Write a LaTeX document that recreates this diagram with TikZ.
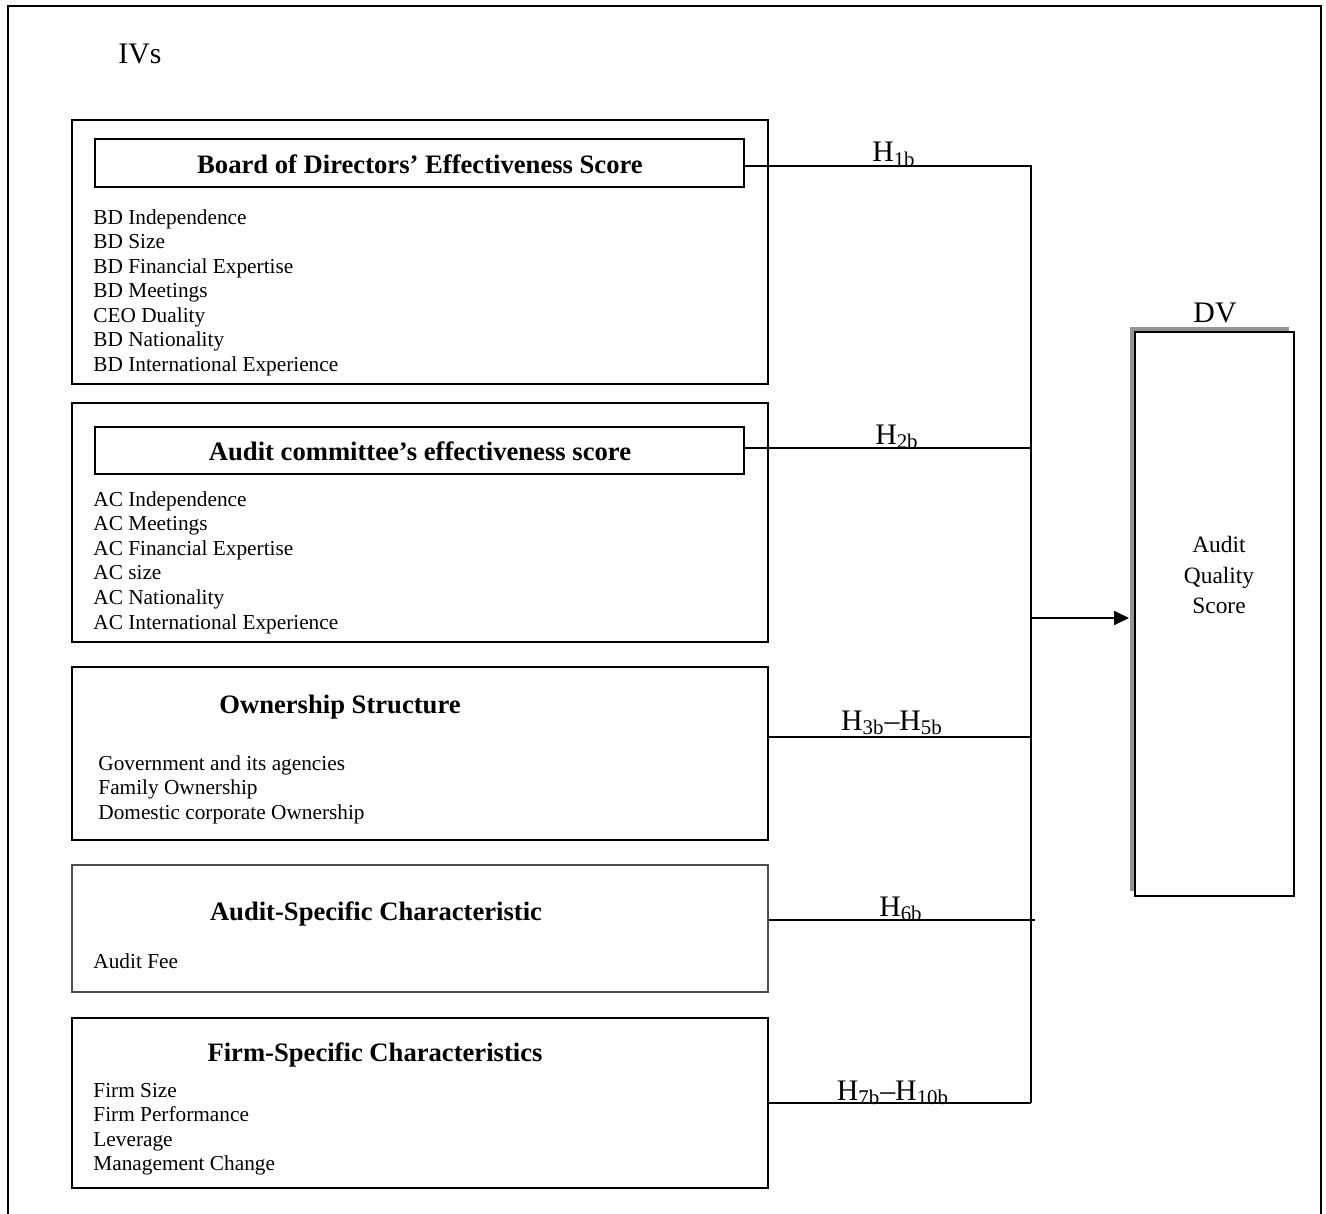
\documentclass[tikz,border=0pt]{standalone}
\usepackage{fontspec}
\setmainfont{Liberation Serif}
\usetikzlibrary{fit,shadows,arrows.meta}
\begin{document}
\begin{tikzpicture}[x=0.4695pt,y=-0.4695pt,
  frame/.style={draw, line width=0.9pt, inner sep=0pt},
  wire/.style={draw, line width=0.9pt},
  item/.style={anchor=base west, inner sep=0pt, font=\fontsize{10}{12}\selectfont},
  ttl/.style={anchor=base, inner sep=0pt, font=\fontsize{12.5}{14}\bfseries\selectfont},
  hlab/.style={anchor=base, inner sep=0pt, font=\fontsize{14}{16}\selectfont},
  big/.style={anchor=base west, inner sep=0pt, font=\fontsize{14}{16}\selectfont}]
\useasboundingbox (0,0) rectangle (1326,1214);

% outer frame, open at the bottom
\draw[line width=0.9pt] (8,1214) -- (8,6) -- (1321,6) -- (1321,1214);

\node[big] (ivs) at (118,64) {IVs};

% Board of directors
\node[frame, fit={(72,120) (768,384)}] (bd) {};
\node[frame, fit={(95,139) (744,187)}] (bdt) {};
\node[ttl] (bdtt) at (420,173) {Board of Directors’ Effectiveness Score};
\foreach [count=\i] \t in {BD Independence, BD Size, BD Financial Expertise, BD Meetings, CEO Duality, BD Nationality, BD International Experience}
  \node[item] (bd\i) at (93,{224+24.5*(\i-1)}) {\t};

% Audit committee
\node[frame, fit={(72,403) (768,642)}] (ac) {};
\node[frame, fit={(95,427) (744,474)}] (act) {};
\node[ttl] (actt) at (420,460) {Audit committee’s effectiveness score};
\foreach [count=\i] \t in {AC Independence, AC Meetings, AC Financial Expertise, AC size, AC Nationality, AC International Experience}
  \node[item] (ac\i) at (93,{506+24.6*(\i-1)}) {\t};

% Ownership structure
\node[frame, fit={(72,667) (768,840)}] (own) {};
\node[ttl] (ownt) at (340,713) {Ownership Structure};
\foreach [count=\i] \t in {Government and its agencies, Family Ownership, Domestic corporate Ownership}
  \node[item] (own\i) at (98,{770+24.5*(\i-1)}) {\t};

% Audit-specific characteristic
\node[frame, draw=black!70, fit={(72,865) (768,992)}] (aud) {};
\node[ttl] (audt) at (376,920) {Audit-Specific Characteristic};
\node[item] (aud1) at (93,968) {Audit Fee};

% Firm-specific characteristics
\node[frame, fit={(72,1018) (768,1188)}] (firm) {};
\node[ttl] (firmt) at (375,1061) {Firm-Specific Characteristics};
\foreach [count=\i] \t in {Firm Size, Firm Performance, Leverage, Management Change}
  \node[item] (firm\i) at (93,{1097+24.5*(\i-1)}) {\t};

% Dependent variable
\node[big, anchor=base] (dvl) at (1215,322) {DV};
\node[frame, fill=white, fit={(1135,332) (1294,896)},
  drop shadow={shadow xshift=-2.35pt, shadow yshift=2.35pt, fill=black!42, opacity=1}] (dv) {};
\node[align=center, inner sep=0pt, font=\fontsize{11}{14.5}\selectfont] (aqs) at (1219,575) {Audit\\Quality\\Score};

% connectors
\coordinate (j1) at (1031,166);
\coordinate (j2) at (1031,448);
\coordinate (j3) at (1031,737);
\coordinate (j4) at (1035,920);
\coordinate (j5) at (1031,1103);
\coordinate (jm) at (1031,618);
\draw[wire] (bdt.east |- j1) -- (j1) -- (j5);
\draw[wire] (act.east |- j2) -- (j2);
\draw[wire] (own.east |- j3) -- (j3);
\draw[wire] (aud.east |- j4) -- (j4);
\draw[wire] (firm.east |- j5) -- (j5);
\draw[wire, -{Triangle[length=7pt,width=6.5pt]}, shorten >=2.35pt] (jm) -- (dv.west |- jm);

% hypothesis labels
\node[hlab] (h1) at (894,162) {H\textsubscript{1b}};
\node[hlab] (h2) at (897,444) {H\textsubscript{2b}};
\node[hlab] (h3) at (892,730) {H\textsubscript{3b}–H\textsubscript{5b}};
\node[hlab] (h6) at (901,916) {H\textsubscript{6b}};
\node[hlab] (h7) at (893,1100) {H\textsubscript{7b}–H\textsubscript{10b}};
\end{tikzpicture}
\end{document}
